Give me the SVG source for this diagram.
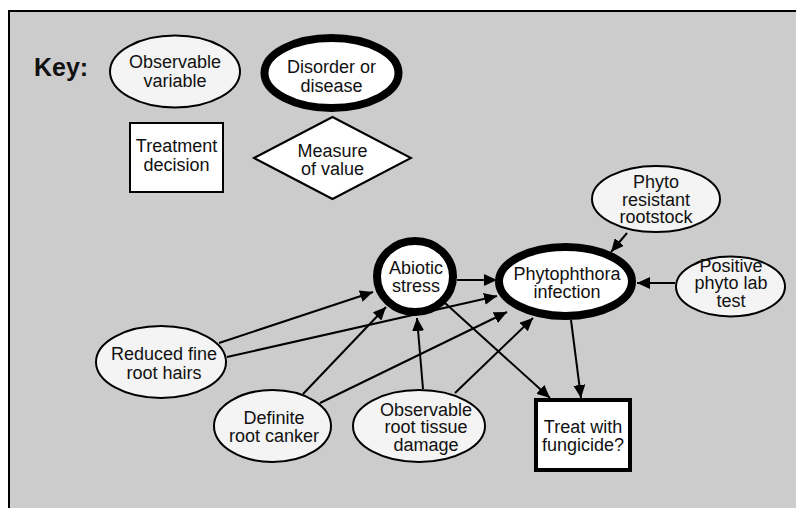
<svg xmlns="http://www.w3.org/2000/svg" width="796" height="508" viewBox="0 0 796 508">
  <style>
    text { font-family: "Liberation Sans", Arial, sans-serif; font-size: 18px; fill: #111; text-anchor: middle; }
    .key { font-size: 25px; font-weight: bold; text-anchor: start; }
    .obs { fill: #f4f4f4; stroke: #000; stroke-width: 2; }
    .dis { fill: #fff; stroke: #000; stroke-width: 8; }
    .dec { fill: #fff; stroke: #000; stroke-width: 2; }
    .dec2 { fill: #fff; stroke: #000; stroke-width: 4; }
    .val { fill: #fff; stroke: #000; stroke-width: 2; }
    .edge { stroke: #000; stroke-width: 2; fill: none; marker-end: url(#arrow); }
  </style>
  <defs>
    <marker id="arrow" markerUnits="userSpaceOnUse" markerWidth="14" markerHeight="12" refX="13" refY="6" orient="auto">
      <path d="M0,0 L13,6 L0,12 Z" fill="#000"/>
    </marker>
  </defs>

  <!-- page background and frame -->
  <rect x="0" y="0" width="796" height="508" fill="#fff"/>
  <rect x="9" y="11" width="800" height="510" fill="#cccccc" stroke="#000" stroke-width="2"/>

  <!-- legend -->
  <g id="key">
    <text class="key" x="34" y="76">Key:</text>
    <g id="key-observable">
      <ellipse class="obs" cx="175" cy="71.5" rx="65" ry="36"/>
      <text x="175" y="68">Observable</text>
      <text x="175" y="87">variable</text>
    </g>
    <g id="key-disorder">
      <ellipse class="dis" cx="331.5" cy="73" rx="67" ry="35"/>
      <text x="331.5" y="73">Disorder or</text>
      <text x="331.5" y="92">disease</text>
    </g>
    <g id="key-decision">
      <rect class="dec" x="130" y="123" width="93" height="69"/>
      <text x="176.5" y="152">Treatment</text>
      <text x="176.5" y="171">decision</text>
    </g>
    <g id="key-value">
      <polygon class="val" points="254,158 332.5,117 411,158 332.5,199"/>
      <text x="332.5" y="157">Measure</text>
      <text x="332.5" y="175">of value</text>
    </g>
  </g>

  <!-- connectors -->
  <g id="connectors">
    <line class="edge" x1="457" y1="280" x2="497" y2="280"/>
    <line class="edge" x1="219" y1="343" x2="373" y2="292"/>
    <line class="edge" x1="227" y1="357" x2="497" y2="296"/>
    <line class="edge" x1="303" y1="394" x2="386" y2="307"/>
    <line class="edge" x1="320" y1="403" x2="507" y2="312"/>
    <line class="edge" x1="423" y1="389" x2="417" y2="318"/>
    <line class="edge" x1="455" y1="393" x2="533" y2="318"/>
    <line class="edge" x1="445" y1="303" x2="550" y2="398"/>
    <line class="edge" x1="571" y1="320" x2="581" y2="398"/>
    <line class="edge" x1="627" y1="233" x2="611" y2="252"/>
    <line class="edge" x1="675" y1="283" x2="637" y2="283"/>
  </g>

  <!-- nodes -->
  <g id="abiotic-stress">
    <ellipse class="dis" cx="415" cy="276.5" rx="38" ry="35.5"/>
    <text x="416" y="274">Abiotic</text>
    <text x="416" y="292">stress</text>
  </g>
  <g id="phytophthora-infection">
    <ellipse class="dis" cx="565.5" cy="281.5" rx="66.5" ry="34.5"/>
    <text x="567" y="280">Phytophthora</text>
    <text x="567" y="298">infection</text>
  </g>
  <g id="phyto-resistant-rootstock">
    <ellipse class="obs" cx="656" cy="199" rx="64" ry="33"/>
    <text x="656" y="188">Phyto</text>
    <text x="656" y="206">resistant</text>
    <text x="656" y="223">rootstock</text>
  </g>
  <g id="positive-phyto-lab-test">
    <ellipse class="obs" cx="730.5" cy="286.5" rx="54.5" ry="30"/>
    <text x="731" y="272">Positive</text>
    <text x="731" y="289">phyto lab</text>
    <text x="731" y="307">test</text>
  </g>
  <g id="reduced-fine-root-hairs">
    <ellipse class="obs" cx="161" cy="362" rx="65" ry="36"/>
    <text x="164" y="360">Reduced fine</text>
    <text x="164" y="379">root hairs</text>
  </g>
  <g id="definite-root-canker">
    <ellipse class="obs" cx="272.5" cy="426" rx="58.5" ry="36"/>
    <text x="274" y="424">Definite</text>
    <text x="274" y="442">root canker</text>
  </g>
  <g id="observable-root-tissue-damage">
    <ellipse class="obs" cx="419" cy="426" rx="66" ry="36"/>
    <text x="426" y="416">Observable</text>
    <text x="426" y="433">root tissue</text>
    <text x="426" y="451">damage</text>
  </g>
  <g id="treat-with-fungicide">
    <rect class="dec2" x="536" y="400" width="94" height="70"/>
    <text x="583" y="433">Treat with</text>
    <text x="583" y="451">fungicide?</text>
  </g>
</svg>
